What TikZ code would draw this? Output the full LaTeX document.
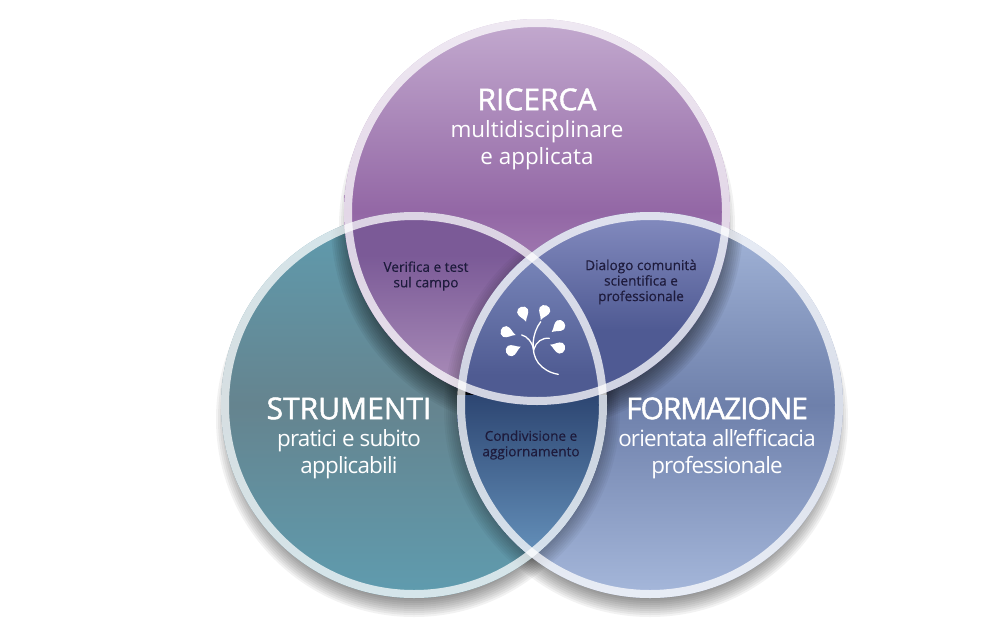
\documentclass[tikz,border=0pt]{standalone}
\usepackage{fontspec}
\setmainfont{Open Sans}
\definecolor{darktext}{HTML}{1E1B3C}
\definecolor{topA}{HTML}{C3AACF}
\definecolor{topM}{HTML}{9367A5}
\definecolor{leftA}{HTML}{5F9CAF}
\definecolor{leftM}{HTML}{65848F}
\definecolor{rightA}{HTML}{A6B8DB}
\definecolor{rightM}{HTML}{6E80AB}
\definecolor{myA}{HTML}{7B5A97}
\definecolor{myB}{HTML}{A98CB8}
\definecolor{myC}{HTML}{8088BC}
\definecolor{myD}{HTML}{4F5A93}
\definecolor{myE}{HTML}{2D4672}
\definecolor{myF}{HTML}{6490BA}
\definecolor{myG}{HTML}{7683B7}
\definecolor{myH}{HTML}{4F5B92}
\newcommand{\softshadow}[4]{%
  \foreach \rr in {180,182,...,#4} {\fill[black,opacity=#3] (#1,#2+14) circle[radius=\rr];}}
\newcommand{\leaflet}[3]{%
  \fill[white,shift={(#1,#2)},rotate=#3] (0,0) .. controls (4.5,-1.5) and (7,-6) .. (11.5,-5.6) .. controls (17,-4.5) and (17,4.5) .. (11.5,5.6) .. controls (7,6) and (4.5,1.5) .. (0,0) -- cycle;}
\tikzset{
  ring/.style={draw=white,draw opacity=0.74,line width=8pt},
  bigtext/.style={text=white,align=center,font=\fontsize{22.4}{27}\selectfont,inner sep=0pt},
  tight/.style={font=\fontsize{22.4}{27}\selectfont\addfontfeature{LetterSpace=-3.6}},
  smalltext/.style={text=darktext,align=center,font=\fontsize{13.6}{15.5}\selectfont\addfontfeature{FakeBold=0.3},inner sep=0pt},
  stem/.style={draw=white,line width=1.3pt,line cap=round}
}
\newcommand{\headf}[2]{\fontsize{#1}{30}\selectfont\addfontfeature{FakeBold=1.5,LetterSpace=#2}}
\begin{document}
\begin{tikzpicture}[x=1pt,y=-1pt]
\useasboundingbox (0,0) rectangle (1000,629);
\fill[white] (0,0) rectangle (1000,629);
% ground shadows
\softshadow{414}{405}{0.05}{198}
\softshadow{650}{405}{0.05}{198}
\softshadow{537}{212}{0.05}{198}
% base fills
\shade[top color=leftA,bottom color=leftA,middle color=leftM] (414,405) circle[radius=193];
\shade[top color=rightA,bottom color=rightA,middle color=rightM] (650,405) circle[radius=193];
% shadows cast on neighbours
\begin{scope}
  \clip (414,405) circle[radius=193];
  \softshadow{650}{396}{0.035}{206}
  \softshadow{537}{210}{0.05}{206}
\end{scope}
\begin{scope}
  \clip (650,405) circle[radius=193];
  \softshadow{414}{396}{0.035}{206}
  \softshadow{537}{210}{0.05}{206}
\end{scope}
\shade[top color=topA,bottom color=topA,middle color=topM] (537,212) circle[radius=193];
% lenses
\begin{scope}
  \clip (537,212) circle[radius=193];
  \clip (414,405) circle[radius=193];
  \shade[top color=myA,bottom color=myB] (340,255) rectangle (560,385);
  \fill[myA] (340,200) rectangle (560,256);
  \fill[myB] (340,384) rectangle (560,410);
  \softshadow{650}{396}{0.03}{206}
\end{scope}
\begin{scope}
  \clip (537,212) circle[radius=193];
  \clip (650,405) circle[radius=193];
  \shade[top color=myC,bottom color=myD] (500,222) rectangle (730,330);
  \fill[myC] (500,200) rectangle (730,223);
  \fill[myD] (500,329) rectangle (730,410);
\end{scope}
\begin{scope}
  \clip (414,405) circle[radius=193];
  \clip (650,405) circle[radius=193];
  \shade[top color=myE,bottom color=myF] (455,395) rectangle (610,555);
  \fill[myF] (455,554) rectangle (610,600);
\end{scope}
\begin{scope}
  \clip (414,405) circle[radius=193];
  \clip (650,405) circle[radius=193];
  \clip (537,212) circle[radius=193];
  \shade[top color=myG,bottom color=myH] (455,262) rectangle (610,375);
  \fill[myH] (455,374) rectangle (610,410);
\end{scope}
% rings
\draw[ring] (414,405) circle[radius=189];
\draw[ring] (650,405) circle[radius=189];
\draw[ring] (537,212) circle[radius=189];
% emblem
\leaflet{526}{321.7}{108}
\leaflet{540.7}{320}{68}
\leaflet{515.7}{335}{162}
\leaflet{551.7}{332}{39}
\leaflet{520.7}{346.7}{202}
\leaflet{550}{344.7}{-18}
\draw[stem] (540.7,321.7) .. controls (532,333) and (530,352) .. (538.3,363) .. controls (543,369) and (550,373) .. (558.3,374.3);
\draw[stem] (521.7,335) .. controls (527,336) and (532,342) .. (534,350);
\draw[stem] (549.3,338.3) .. controls (542,337.5) and (536,342) .. (534,349);
% labels
\node[bigtext] (ricerca) at (537,129) {{\headf{30}{0} RICERCA}\\multidisciplinare\\e applicata};
\node[bigtext,tight] (strumenti) at (349,438) {{\headf{30}{0} STRUMENTI}\\pratici e subito\\applicabili};
\node[bigtext,tight] (formazione) at (717,438) {{\headf{30}{-3.7} FORMAZIONE}\\orientata all’efficacia\\professionale};
\node[smalltext] (verifica) at (426,276) {Verifica e test\\sul campo};
\node[smalltext] (dialogo) at (641,282) {Dialogo comunità\\scientifica e\\professionale};
\node[smalltext] (condivisione) at (531,445) {Condivisione e\\aggiornamento};
\end{tikzpicture}
\end{document}
